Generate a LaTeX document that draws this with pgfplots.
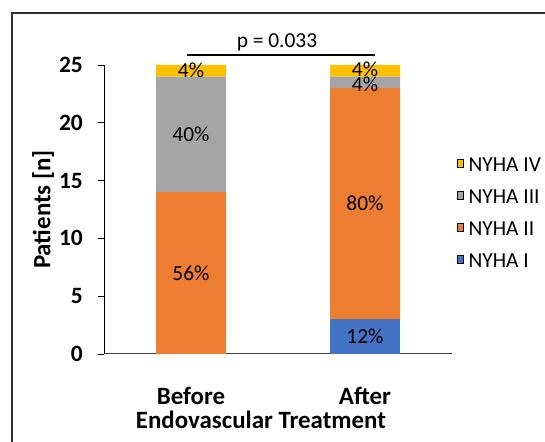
\documentclass[border=0pt]{standalone}
\usepackage{pgfplots}
\pgfplotsset{compat=1.18}
\usepackage{fontspec}
\setmainfont{Carlito}
\definecolor{nyhaI}{HTML}{4472C4}
\definecolor{nyhaII}{HTML}{ED7D31}
\definecolor{nyhaIII}{HTML}{A5A5A5}
\definecolor{nyhaIV}{HTML}{FFC000}
\newcommand{\bfs}{\bfseries\fontsize{25}{29}\selectfont}
\newcommand{\bft}{\bfseries\fontsize{23.5}{27}\selectfont}
\newcommand{\rgs}{\fontsize{21.5}{25}\selectfont}
\begin{document}
\begin{tikzpicture}
\useasboundingbox (0bp,0bp) rectangle (545bp,442bp);
\draw[line width=2bp, black!80] (11.5bp,-20bp) rectangle (600bp,429bp);
\begin{axis}[
  at={(104bp,88bp)}, anchor=south west,
  scale only axis, width=348bp, height=289bp,
  ybar stacked, bar width=70bp,
  xmin=-0.5, xmax=1.5, ymin=0, ymax=25,
  xtick={0,1}, xticklabels={Before,After},
  ytick={0,5,...,25},
  axis x line*=bottom, axis y line*=left,
  x axis line style={black!75, line width=1bp},
  y axis line style={black, line width=0.9bp},
  tick align=outside, major tick length=6bp,
  ytick style={black, line width=0.9bp},
  xtick style={draw=none},
  tick pos=left,
  /pgf/number format/assume math mode=true,
  yticklabel style={font=\bft, inner sep=0pt, xshift=-15bp},
  xticklabel style={font=\bfs, anchor=base, inner sep=0pt, yshift=-44bp},
  xlabel={Endovascular Treatment},
  every axis x label/.style={at={(axis description cs:0.451,0)}, anchor=base, yshift=-74bp, font=\bfs},
  ylabel={Patients [n]},
  every axis y label/.style={at={(axis description cs:-0.175,0.5)}, rotate=90, anchor=center, font=\bfs},
  /pgfplots/ybar legend/.style={legend image code/.code={\fill[##1] (0bp,-5.5bp) rectangle (11bp,5.5bp);}},
  reverse legend,
  legend cell align=left,
  legend style={at={(axis description cs:1.0144,0.487)}, anchor=west, draw=none, fill=none, font=\rgs, row sep=13bp, column sep=3bp, inner sep=0pt},
]
\addplot[fill=nyhaI, draw=none] coordinates {(0,0) (1,3)};
\addplot[fill=nyhaII, draw=none] coordinates {(0,14) (1,20)};
\addplot[fill=nyhaIII, draw=none] coordinates {(0,10) (1,1)};
\addplot[fill=nyhaIV, draw=none] coordinates {(0,1) (1,1)};
\legend{NYHA I, NYHA II, NYHA III, NYHA IV}
\end{axis}
\begin{axis}[
  at={(104bp,88bp)}, anchor=south west,
  scale only axis, width=348bp, height=289bp,
  xmin=-0.5, xmax=1.5, ymin=0, ymax=25,
  hide axis, clip=false,
]
\addplot[only marks, mark=*, mark size=0pt, draw=none, fill=none,
  nodes near coords, point meta=explicit symbolic,
  every node near coord/.style={font=\rgs, anchor=center, inner sep=0pt, text=black}]
  coordinates {(0,24.5)[4\%] (0,19)[40\%] (0,7)[56\%] (1,1.5)[12\%] (1,13)[80\%] (1,23.35)[4\%] (1,24.6)[4\%]};
\end{axis}
\draw[line width=2.8bp] (187bp,387bp) -- (375bp,387bp);
\node[font=\rgs, anchor=base, inner sep=0pt] at (277bp,394bp) {p = 0.033};
\end{tikzpicture}
\end{document}
